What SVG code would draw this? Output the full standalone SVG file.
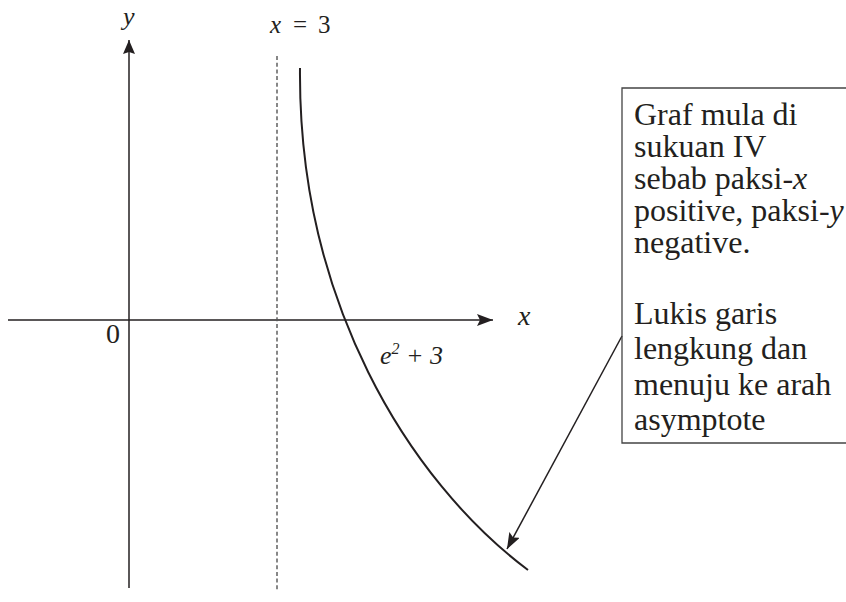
<svg xmlns="http://www.w3.org/2000/svg" width="846" height="602" viewBox="0 0 846 602">
<style>
text{font-family:"Liberation Serif","Times New Roman",serif;fill:#231f20}
.i{font-style:italic}
.ax{stroke:#231f20;stroke-width:1.5;fill:none}
</style>
<defs>
<marker id="ah" markerWidth="16" markerHeight="12" refX="16" refY="6" orient="auto" markerUnits="userSpaceOnUse">
<path d="M0,0 L16,6 L0,12 L3,6 Z" fill="#231f20"/>
</marker>
<marker id="ahy" markerWidth="14" markerHeight="12" refX="14" refY="6" orient="auto" markerUnits="userSpaceOnUse">
<path d="M0,0 L14,6 L0,12 L2,6 Z" fill="#231f20"/>
</marker>
</defs>
<rect width="846" height="602" fill="#fff"/>
<g id="connectors">
<line class="ax" x1="129" y1="588" x2="129" y2="40" marker-end="url(#ahy)"/>
<line class="ax" x1="8" y1="320" x2="493" y2="320" marker-end="url(#ah)"/>
<line x1="277" y1="56" x2="277" y2="592" stroke="#555" stroke-width="1.4" stroke-dasharray="4,2.7"/>
<path d="M300,68 C298,300 408,480 528,570" stroke="#231f20" stroke-width="2" fill="none"/>
<line class="ax" x1="622" y1="336" x2="507" y2="549" stroke-width="1.3" marker-end="url(#ah)"/>
</g>
<g id="labels">
<text class="i" x="123" y="25" font-size="26">y</text>
<text x="270" y="33" font-size="25"><tspan class="i">x</tspan><tspan x="293">=</tspan><tspan x="318">3</tspan></text>
<text class="i" x="518" y="325" font-size="28">x</text>
<text x="106" y="343" font-size="28">0</text>
<text class="i" x="380" y="364" font-size="26">e<tspan font-size="16" dy="-10">2</tspan><tspan dy="10"> + 3</tspan></text>
</g>
<g id="note">
<path d="M846,88 H622 V443 H846" fill="none" stroke="#444" stroke-width="1.3"/>
<text font-size="32">
<tspan x="634" y="125">Graf mula di</tspan>
<tspan x="634" y="157">sukuan IV</tspan>
<tspan x="634" y="189">sebab paksi-<tspan class="i">x</tspan></tspan>
<tspan x="634" y="221">positive, paksi-<tspan class="i">y</tspan></tspan>
<tspan x="634" y="253">negative.</tspan>
<tspan x="634" y="324">Lukis garis</tspan>
<tspan x="634" y="359">lengkung dan</tspan>
<tspan x="634" y="395">menuju ke arah</tspan>
<tspan x="634" y="430">asymptote</tspan>
</text>
</g>
</svg>
